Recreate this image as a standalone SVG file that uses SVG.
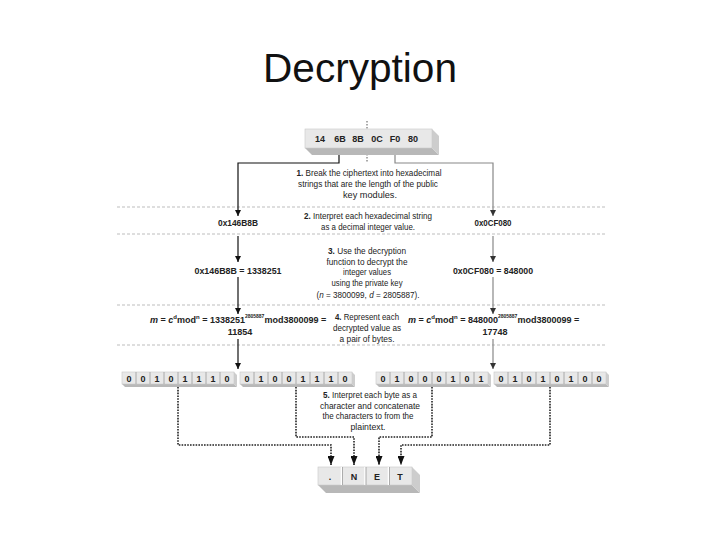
<svg xmlns="http://www.w3.org/2000/svg" width="720" height="540" viewBox="0 0 720 540">
<defs>
<style>
.t{font-family:"Liberation Sans",Arial,sans-serif;font-size:9px;fill:#222;}
.b{font-weight:bold;}
.c{text-anchor:middle;}
.e{font-family:"Liberation Sans",Arial,sans-serif;font-size:9px;font-weight:bold;fill:#222;}
.s{font-size:6px;}
.s2{font-size:5px;}
.title{font-family:"Liberation Sans",Arial,sans-serif;font-size:40px;fill:#111;text-anchor:middle;}
.sep{stroke:#bdbdbd;stroke-width:1;stroke-dasharray:3 2;fill:none;}
.ln{stroke:#111;stroke-width:1.2;fill:none;}
.lg{stroke:#888;stroke-width:1.2;fill:none;}
.dot{stroke:#222;stroke-width:1.6;stroke-dasharray:1.6 1.2;fill:none;}
.front{fill:#e8e8e8;stroke:#c8c8c8;stroke-width:0.6;}
.bot{fill:#b8b8b8;}
.side{fill:#cdcdcd;}
.cell{stroke:#9a9a9a;stroke-width:0.8;}
</style>
<marker id="a" viewBox="0 0 6 6" refX="6" refY="3" markerWidth="6" markerHeight="6" markerUnits="userSpaceOnUse" orient="auto"><path d="M0,0 L6,3 L0,6 z" fill="#111"/></marker>
<marker id="ag" viewBox="0 0 6 6" refX="6" refY="3" markerWidth="6" markerHeight="6" markerUnits="userSpaceOnUse" orient="auto"><path d="M0,0 L6,3 L0,6 z" fill="#333"/></marker>
<marker id="ad" viewBox="0 0 9 7" refX="9" refY="3.5" markerWidth="9" markerHeight="7" markerUnits="userSpaceOnUse" orient="auto"><path d="M0,0 L9,3.5 L0,7 z" fill="#111"/></marker>
</defs>
<rect width="720" height="540" fill="#fff"/>
<text class="title" x="360" y="82" textLength="194" lengthAdjust="spacingAndGlyphs">Decryption</text>

<g id="separators">
<line class="sep" x1="117" y1="207" x2="606" y2="207"/>
<line class="sep" x1="117" y1="234" x2="606" y2="234"/>
<line class="sep" x1="117" y1="305" x2="606" y2="305"/>
<line class="sep" x1="117" y1="345" x2="606" y2="345"/>
</g>

<g id="connectors">
<line x1="367" y1="121" x2="367" y2="162" stroke="#555" stroke-width="1" stroke-dasharray="1.5 1.5"/>
<path class="ln" d="M339,148 V163 H238 V216" marker-end="url(#a)"/>
<path class="lg" d="M395,148 V163 H493 V216" marker-end="url(#ag)"/>
<path class="ln" d="M238,236 V262" marker-end="url(#a)"/>
<path class="lg" d="M493,236 V262" marker-end="url(#ag)"/>
<path class="ln" d="M238,277 V314" marker-end="url(#a)"/>
<path class="lg" d="M493,277 V314" marker-end="url(#ag)"/>
<path class="ln" d="M238,339 V369" marker-end="url(#a)"/>
<path class="lg" d="M493,339 V369" marker-end="url(#ag)"/>
<path class="dot" d="M178,387 V445 H331 V465" marker-end="url(#ad)"/>
<path class="dot" d="M296,387 V437 H354 V465" marker-end="url(#ad)"/>
<path class="dot" d="M432,387 V437 H379 V465" marker-end="url(#ad)"/>
<path class="dot" d="M550,387 V445 H401 V465" marker-end="url(#ad)"/>
</g>

<g id="ciphertext">
<polygon class="bot" points="305,148 432,148 439,155 312,155"/>
<polygon class="side" points="432,129 439,136 439,155 432,148"/>
<rect class="front" x="305" y="129" width="127" height="19"/>
<text class="t b c" y="142" font-size="11"><tspan x="320">14</tspan><tspan x="340">6B</tspan><tspan x="358">8B</tspan><tspan x="377">0C</tspan><tspan x="395">F0</tspan><tspan x="413">80</tspan></text>
</g>

<g id="step1">
<text class="t c" x="369" y="176" textLength="145" lengthAdjust="spacingAndGlyphs"><tspan class="b">1.</tspan> Break the ciphertext into hexadecimal</text>
<text class="t c" x="368" y="187" textLength="140" lengthAdjust="spacingAndGlyphs">strings that are the length of the public</text>
<text class="t c" x="370" y="198" textLength="54" lengthAdjust="spacingAndGlyphs">key modules.</text>
</g>

<g id="hexLeft"><text class="t b c" x="238" y="226" font-size="10" textLength="40" lengthAdjust="spacingAndGlyphs">0x146B8B</text></g>
<g id="hexRight"><text class="t b c" x="493" y="226" font-size="10" textLength="37" lengthAdjust="spacingAndGlyphs">0x0CF080</text></g>

<g id="step2">
<text class="t c" x="368" y="219" textLength="128" lengthAdjust="spacingAndGlyphs"><tspan class="b">2.</tspan> Interpret each hexadecimal string</text>
<text class="t c" x="368" y="230" textLength="94" lengthAdjust="spacingAndGlyphs">as a decimal integer value.</text>
</g>

<g id="step3">
<text class="t c" x="367" y="254" textLength="78" lengthAdjust="spacingAndGlyphs"><tspan class="b">3.</tspan> Use the decryption</text>
<text class="t c" x="367" y="264.5" textLength="81" lengthAdjust="spacingAndGlyphs">function to decrypt the</text>
<text class="t c" x="367" y="275" textLength="48" lengthAdjust="spacingAndGlyphs">integer values</text>
<text class="t c" x="367" y="285.5" textLength="71" lengthAdjust="spacingAndGlyphs">using the private key</text>
<text class="t c" x="368" y="298" textLength="103" lengthAdjust="spacingAndGlyphs">(<tspan font-style="italic">n</tspan> = 3800099, <tspan font-style="italic">d</tspan> = 2805887).</text>
</g>

<g id="intLeft"><text class="t b c" x="238" y="274" font-size="10" textLength="87" lengthAdjust="spacingAndGlyphs">0x146B8B = 1338251</text></g>
<g id="intRight"><text class="t b c" x="493" y="274" font-size="10" textLength="80" lengthAdjust="spacingAndGlyphs">0x0CF080 = 848000</text></g>

<g id="eqLeft">
<text class="e" x="150" y="323"><tspan font-style="italic">m</tspan> = <tspan font-style="italic">c</tspan><tspan class="s" dy="-4">d</tspan><tspan dy="4">mod</tspan><tspan class="s" dy="-4">n</tspan><tspan dy="4"> = 1338251</tspan><tspan class="s2" dy="-5">2805887</tspan><tspan dy="5">mod3800099 =</tspan></text>
<text class="e c" x="240" y="335" font-size="10">11854</text>
</g>
<g id="eqRight">
<text class="e" x="408" y="323"><tspan font-style="italic">m</tspan> = <tspan font-style="italic">c</tspan><tspan class="s" dy="-4">d</tspan><tspan dy="4">mod</tspan><tspan class="s" dy="-4">n</tspan><tspan dy="4"> = 848000</tspan><tspan class="s2" dy="-5">2805887</tspan><tspan dy="5">mod3800099 =</tspan></text>
<text class="e c" x="495" y="335" font-size="10">17748</text>
</g>

<g id="step4">
<text class="t c" x="367" y="320" textLength="64" lengthAdjust="spacingAndGlyphs"><tspan class="b">4.</tspan> Represent each</text>
<text class="t c" x="367" y="331" textLength="68" lengthAdjust="spacingAndGlyphs">decrypted value as</text>
<text class="t c" x="367" y="342" textLength="55" lengthAdjust="spacingAndGlyphs">a pair of bytes.</text>
</g>

<g id="byte1">
<polygon class="bot" points="122,384 234,384 237,387 125,387"/>
<polygon class="side" points="234,372 237,375 237,387 234,384"/>
<rect class="front" x="122" y="372" width="112" height="12"/>
<path class="cell" d="M136,372V384M150,372V384M164,372V384M178,372V384M192,372V384M206,372V384M220,372V384"/>
<text class="t b c" y="382" font-size="10"><tspan x="129">0</tspan><tspan x="143">0</tspan><tspan x="157">1</tspan><tspan x="171">0</tspan><tspan x="185">1</tspan><tspan x="199">1</tspan><tspan x="213">1</tspan><tspan x="227">0</tspan></text>
</g>
<g id="byte2">
<polygon class="bot" points="240,384 352,384 355,387 243,387"/>
<polygon class="side" points="352,372 355,375 355,387 352,384"/>
<rect class="front" x="240" y="372" width="112" height="12"/>
<path class="cell" d="M254,372V384M268,372V384M282,372V384M296,372V384M310,372V384M324,372V384M338,372V384"/>
<text class="t b c" y="382" font-size="10"><tspan x="247">0</tspan><tspan x="261">1</tspan><tspan x="275">0</tspan><tspan x="289">0</tspan><tspan x="303">1</tspan><tspan x="317">1</tspan><tspan x="331">1</tspan><tspan x="345">0</tspan></text>
</g>
<g id="byte3">
<polygon class="bot" points="376,384 488,384 491,387 379,387"/>
<polygon class="side" points="488,372 491,375 491,387 488,384"/>
<rect class="front" x="376" y="372" width="112" height="12"/>
<path class="cell" d="M390,372V384M404,372V384M418,372V384M432,372V384M446,372V384M460,372V384M474,372V384"/>
<text class="t b c" y="382" font-size="10"><tspan x="383">0</tspan><tspan x="397">1</tspan><tspan x="411">0</tspan><tspan x="425">0</tspan><tspan x="439">0</tspan><tspan x="453">1</tspan><tspan x="467">0</tspan><tspan x="481">1</tspan></text>
</g>
<g id="byte4">
<polygon class="bot" points="494,384 606,384 609,387 497,387"/>
<polygon class="side" points="606,372 609,375 609,387 606,384"/>
<rect class="front" x="494" y="372" width="112" height="12"/>
<path class="cell" d="M508,372V384M522,372V384M536,372V384M550,372V384M564,372V384M578,372V384M592,372V384"/>
<text class="t b c" y="382" font-size="10"><tspan x="501">0</tspan><tspan x="515">1</tspan><tspan x="529">0</tspan><tspan x="543">1</tspan><tspan x="557">0</tspan><tspan x="571">1</tspan><tspan x="585">0</tspan><tspan x="599">0</tspan></text>
</g>

<g id="step5">
<text class="t c" x="370" y="398" textLength="94" lengthAdjust="spacingAndGlyphs"><tspan class="b">5.</tspan> Interpret each byte as a</text>
<text class="t c" x="370" y="408.5" textLength="100" lengthAdjust="spacingAndGlyphs">character and concatenate</text>
<text class="t c" x="368" y="419" textLength="91" lengthAdjust="spacingAndGlyphs">the characters to from the</text>
<text class="t c" x="368" y="429.5" textLength="35" lengthAdjust="spacingAndGlyphs">plaintext.</text>
</g>

<g id="plaintext">
<polygon class="bot" points="318,485 412,485 420,493 326,493"/>
<polygon class="side" points="412,467 420,475 420,493 412,485"/>
<rect class="front" x="318" y="467" width="94" height="18"/>
<path d="M341.5,467V485M365,467V485M388.5,467V485" stroke="#fff" stroke-width="1.5"/>
<path class="cell" d="M342.5,467V485M366,467V485M389.5,467V485"/>
<text class="t b c" y="480" font-size="11"><tspan x="330">.</tspan><tspan x="354">N</tspan><tspan x="377">E</tspan><tspan x="400">T</tspan></text>
</g>
</svg>
